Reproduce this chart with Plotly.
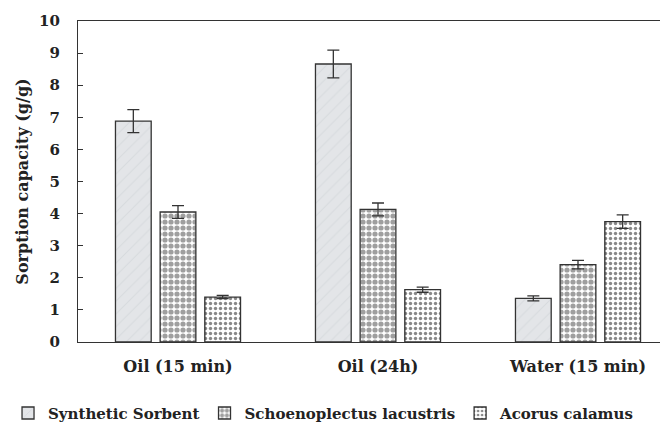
import plotly.graph_objects as go

categories = ["Oil (15 min)", "Oil (24h)", "Water (15 min)"]
series_names = ["Synthetic Sorbent", "Schoenoplectus lacustris", "Acorus calamus"]
synthetic = [6.88, 8.66, 1.36]
synthetic_err = [0.36, 0.43, 0.08]
schoen = [4.05, 4.13, 2.41]
schoen_err = [0.20, 0.20, 0.13]
acorus = [1.40, 1.63, 3.75]
acorus_err = [0.05, 0.08, 0.21]
y_ticks = [0, 1, 2, 3, 4, 5, 6, 7, 8, 9, 10]

FONT = "DejaVu Serif"
TXT = "#222222"
LINE = "#333333"

styles = [
    dict(color="#dcdfe3", pattern=dict(shape="/", fgcolor="#cbcfd4", bgcolor="#e3e5e8", size=9, solidity=0.12)),
    dict(color="#ffffff", pattern=dict(shape=".", fgcolor="#3f3f3f", bgcolor="#ffffff", size=6, solidity=0.6)),
    dict(color="#ffffff", pattern=dict(shape=".", fgcolor="#111111", bgcolor="#ffffff", size=5, solidity=0.36)),
]

fig = go.Figure()
for name, vals, errs, st in zip(series_names, [synthetic, schoen, acorus],
                                 [synthetic_err, schoen_err, acorus_err], styles):
    fig.add_trace(go.Bar(
        name=name, x=categories, y=vals,
        error_y=dict(type="data", array=errs, color=LINE, thickness=1.3, width=6),
        marker=dict(color=st["color"], pattern=st["pattern"],
                    line=dict(color=LINE, width=1.3)),
    ))

# page body has an 8px default margin; margins below compensate for it
fig.update_layout(
    width=668, height=424,
    margin=dict(l=70, r=8, t=13, b=90, autoexpand=False),
    paper_bgcolor="white", plot_bgcolor="white",
    barmode="group", bargap=0.33, bargroupgap=0.2,
    font=dict(family=FONT, size=16, color=TXT, weight="bold"),
    showlegend=True,
    legend=dict(orientation="h",
                x=-0.1186, y=-0.222, xanchor="left", yanchor="middle",
                font=dict(family=FONT, size=15, color=TXT, weight="bold"),
                itemwidth=30, traceorder="normal"),
)
fig.update_xaxes(
    type="category", range=[-0.5, 2.45], automargin=False,
    showline=True, linecolor=LINE, linewidth=1.3, mirror=True,
    ticks="", showgrid=False, zeroline=False, ticklabelstandoff=10,
    tickfont=dict(family=FONT, size=16, color=TXT, weight="bold"),
)
fig.update_yaxes(
    range=[0, 10], tickvals=y_ticks, automargin=False,
    showline=True, linecolor=LINE, linewidth=1.3,
    ticks="inside", ticklen=5, tickcolor=LINE, tickwidth=1.2,
    showgrid=False, zeroline=False, ticklabelstandoff=14,
    tickfont=dict(family=FONT, size=15, color=TXT, weight="bold"),
    title=dict(text="Sorption capacity (g/g)", standoff=6,
               font=dict(family=FONT, size=16, color=TXT, weight="bold")),
)

fig.write_html("out.html")
